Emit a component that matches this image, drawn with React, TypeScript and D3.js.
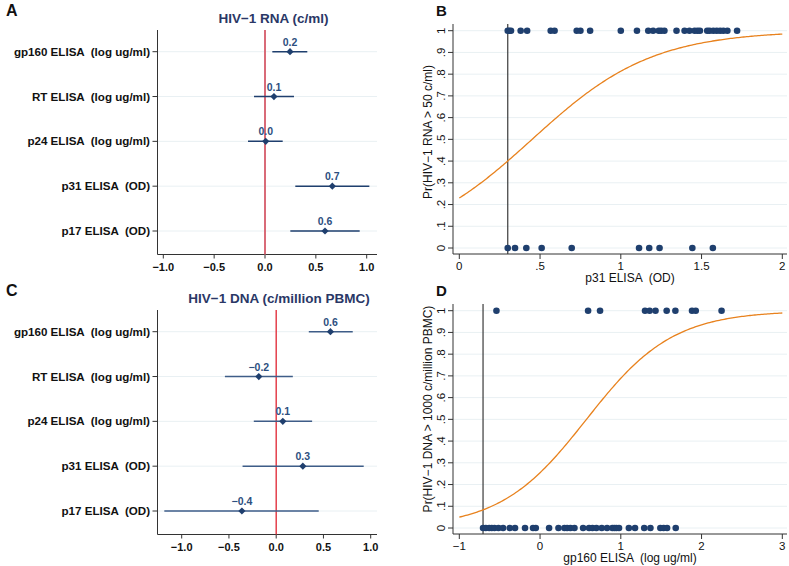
import React from "react";
import * as d3 from "d3";

// ---------- Data ----------
const forestCats = [
  "gp160 ELISA  (log ug/ml)",
  "RT ELISA  (log ug/ml)",
  "p24 ELISA  (log ug/ml)",
  "p31 ELISA  (OD)",
  "p17 ELISA  (OD)",
];
const rnaEst = [0.246, 0.088, 0.007, 0.662, 0.59];
const rnaLo = [0.072, -0.108, -0.167, 0.298, 0.249];
const rnaHi = [0.416, 0.285, 0.174, 1.026, 0.931];
const rnaLabels = ["0.2", "0.1", "0.0", "0.7", "0.6"];

const dnaEst = [0.574, -0.184, 0.07, 0.282, -0.363];
const dnaLo = [0.345, -0.543, -0.237, -0.356, -1.184];
const dnaHi = [0.81, 0.176, 0.38, 0.926, 0.45];
const dnaLabels = ["0.6", "\u22120.2", "0.1", "0.3", "\u22120.4"];

const forestTicks = [-1, -0.5, 0, 0.5, 1];
const forestTickLabels = ["\u22121.0", "\u22120.5", "0.0", "0.5", "1.0"];

// Panel B: p31 ELISA (OD) vs Pr(HIV-1 RNA > 50 c/ml)
const bOnes = [0.3, 0.31, 0.32, 0.38, 0.42, 0.566, 0.59, 0.727, 0.75, 0.81, 1.0, 1.1, 1.17, 1.2, 1.235, 1.25, 1.27, 1.345, 1.395, 1.425, 1.457, 1.475, 1.49, 1.535, 1.55, 1.573, 1.594, 1.615, 1.635, 1.66, 1.72];
const bZeros = [0.3, 0.345, 0.415, 0.51, 0.696, 1.113, 1.176, 1.24, 1.443, 1.57];
const bCutoff = 0.3;
const bIntercept = -1.208;
const bSlope = 2.68;
const bXTicks = [0, 0.5, 1, 1.5, 2];
const bXTickLabels = ["0", ".5", "1", "1.5", "2"];

// Panel D: gp160 ELISA (log ug/ml) vs Pr(HIV-1 DNA > 1000 c/million PBMC)
const dOnes = [-0.54, 0.595, 0.743, 1.3, 1.357, 1.43, 1.568, 1.676, 1.882, 1.928, 2.248];
const dZeros = [-0.706, -0.672, -0.63, -0.598, -0.565, -0.515, -0.458, -0.375, -0.31, -0.186, -0.087, -0.053, 0.112, 0.228, 0.302, 0.335, 0.376, 0.426, 0.533, 0.607, 0.649, 0.698, 0.764, 0.83, 0.896, 0.921, 0.946, 0.978, 1.1, 1.176, 1.29, 1.367, 1.49, 1.53, 1.573, 1.68];
const dCutoff = -0.706;
const dIntercept = -1.075;
const dSlope = 1.87;
const dXTicks = [-1, 0, 1, 2, 3];
const dXTickLabels = ["\u22121", "0", "1", "2", "3"];

const probTicks = [0, 0.1, 0.2, 0.3, 0.4, 0.5, 0.6, 0.7, 0.8, 0.9, 1];
const probTickLabels = ["0", ".1", ".2", ".3", ".4", ".5", ".6", ".7", ".8", ".9", "1"];

// ---------- Styles ----------
const FONT = "'Liberation Sans', Arial, Helvetica, sans-serif";
const NAVY = "#1f3f6e";
const GRID = "#e9f0f3";
const PRE = { whiteSpace: "pre" as const };

type ForestProps = {
  title: string;
  est: number[];
  lo: number[];
  hi: number[];
  labels: string[];
  top: number;
  x0: number;
  x1: number;
  titleX: number;
  letter: string;
  refColor: string;
  refWidth: number;
  lineColor: string;
};

function Forest(p: ForestProps) {
  const x = d3.scaleLinear().domain([-1, 1]).range([p.x0, p.x1]);
  const y = d3.scalePoint<string>().domain(forestCats).range([p.top + 51.7, p.top + 231]);
  const axisX = 157.5;
  const plotTop = p.top + 30;
  const axisY = p.top + 254.5;
  const right = 377;
  return (
    <g fontFamily={FONT}>
      <text x={6} y={p.top + 15.5} fontSize={16} fontWeight="bold" fill="#111">{p.letter}</text>
      <text x={p.titleX} y={p.top + 23} fontSize={13.5} fontWeight="bold" fill="#2a3766" textAnchor="middle">{p.title}</text>
      {forestCats.map((c) => (
        <line key={"g" + c} x1={axisX} x2={right} y1={y(c)} y2={y(c)} stroke={GRID} strokeWidth={1} />
      ))}
      <line x1={axisX} x2={axisX} y1={plotTop} y2={axisY} stroke="#333" strokeWidth={1} />
      <line x1={axisX} x2={right} y1={axisY} y2={axisY} stroke="#333" strokeWidth={1} />
      {forestCats.map((c) => (
        <g key={"l" + c}>
          <line x1={axisX - 5} x2={axisX} y1={y(c)} y2={y(c)} stroke="#333" strokeWidth={1} />
          <text x={150} y={(y(c) as number) + 4} fontSize={11.6} fontWeight="bold" fill="#111" textAnchor="end" style={PRE}>{c}</text>
        </g>
      ))}
      {forestTicks.map((t, i) => (
        <g key={"t" + t}>
          <line x1={x(t)} x2={x(t)} y1={axisY} y2={axisY + 4} stroke="#333" strokeWidth={1} />
          <text x={x(t)} y={axisY + 16.5} fontSize={11} fontWeight="bold" fill="#111" textAnchor="middle">{forestTickLabels[i]}</text>
        </g>
      ))}
      <line x1={x(0)} x2={x(0)} y1={plotTop} y2={axisY} stroke={p.refColor} strokeWidth={p.refWidth} />
      {forestCats.map((c, i) => {
        const yy = y(c) as number;
        const cx = x(p.est[i]);
        const s = 3.6;
        return (
          <g key={"m" + c}>
            <line x1={x(p.lo[i])} x2={x(p.hi[i])} y1={yy} y2={yy} stroke={p.lineColor} strokeWidth={1.5} />
            <path d={`M${cx},${yy - s} L${cx + s},${yy} L${cx},${yy + s} L${cx - s},${yy} Z`} fill={NAVY} />
            <text x={cx} y={yy - 6} fontSize={10.5} fontWeight="bold" fill="#2d4f80" textAnchor="middle">{p.labels[i]}</text>
          </g>
        );
      })}
    </g>
  );
}

type LogitProps = {
  top: number;
  domain: [number, number];
  ones: number[];
  zeros: number[];
  cutoff: number;
  intercept: number;
  slope: number;
  xTicks: number[];
  xTickLabels: string[];
  xTitle: string;
  yTitle: string;
  yTitleCenter: number;
  letter: string;
};

function Logit(p: LogitProps) {
  const x = d3.scaleLinear().domain(p.domain).range([459.3, 782.3]);
  const y = d3.scaleLinear().domain([0, 1]).range([p.top + 248, p.top + 30.7]);
  const axisX = 453;
  const axisTop = p.top + 24;
  const axisY = p.top + 254;
  const right = 787;
  const xs = d3.range(0, 201).map((i) => p.domain[0] + ((p.domain[1] - p.domain[0]) * i) / 200);
  const curve = d3
    .line<number>()
    .x((v) => x(v))
    .y((v) => y(1 / (1 + Math.exp(-(p.intercept + p.slope * v)))))(xs);
  return (
    <g fontFamily={FONT}>
      <text x={436} y={p.top + 15.5} fontSize={15} fontWeight="bold" fill="#111">{p.letter}</text>
      {probTicks.map((t) => (
        <line key={"g" + t} x1={axisX} x2={right} y1={y(t)} y2={y(t)} stroke={GRID} strokeWidth={1} />
      ))}
      <line x1={axisX} x2={axisX} y1={axisTop} y2={axisY} stroke="#333" strokeWidth={1} />
      <line x1={axisX} x2={right} y1={axisY} y2={axisY} stroke="#333" strokeWidth={1} />
      {probTicks.map((t, i) => (
        <g key={"yt" + t}>
          <line x1={axisX - 5} x2={axisX} y1={y(t)} y2={y(t)} stroke="#333" strokeWidth={1} />
          <text transform={`translate(${axisX - 8},${y(t)}) rotate(-90)`} fontSize={11.5} fill="#111" textAnchor="middle">{probTickLabels[i]}</text>
        </g>
      ))}
      {p.xTicks.map((t, i) => (
        <g key={"xt" + t}>
          <line x1={x(t)} x2={x(t)} y1={axisY} y2={axisY + 5} stroke="#333" strokeWidth={1} />
          <text x={x(t)} y={axisY + 16} fontSize={11.5} fill="#111" textAnchor="middle">{p.xTickLabels[i]}</text>
        </g>
      ))}
      <text x={630} y={axisY + 28} fontSize={12} fill="#111" textAnchor="middle" style={PRE}>{p.xTitle}</text>
      <text transform={`translate(${432},${p.yTitleCenter}) rotate(-90)`} fontSize={12} fill="#111" textAnchor="middle">{p.yTitle}</text>
      <line x1={x(p.cutoff)} x2={x(p.cutoff)} y1={axisTop} y2={axisY} stroke="#3a3a3a" strokeWidth={1.2} />
      <path d={curve || ""} fill="none" stroke="#e8821e" strokeWidth={1.3} />
      {p.ones.map((v, i) => (
        <circle key={"o" + i} cx={x(v)} cy={y(1)} r={3.3} fill={NAVY} />
      ))}
      {p.zeros.map((v, i) => (
        <circle key={"z" + i} cx={x(v)} cy={y(0)} r={3.3} fill={NAVY} />
      ))}
    </g>
  );
}

export default function App() {
  return (
    <svg
      width={789}
      height={566}
      viewBox="0 0 789 566"
      style={{ position: "absolute", left: 0, top: 0, background: "#fff" }}
    >
      <rect width={789} height={566} fill="#fff" />
      <Forest
        title={"HIV\u22121 RNA (c/ml)"}
        est={rnaEst}
        lo={rnaLo}
        hi={rnaHi}
        labels={rnaLabels}
        top={0}
        x0={163.3}
        x1={366.7}
        titleX={273.5}
        letter="A"
        refColor="#d96b78"
        refWidth={2}
        lineColor={NAVY}
      />
      <Forest
        title={"HIV\u22121 DNA (c/million PBMC)"}
        est={dnaEst}
        lo={dnaLo}
        hi={dnaHi}
        labels={dnaLabels}
        top={280}
        x0={181.7}
        x1={370.7}
        titleX={279}
        letter="C"
        refColor="#e2333f"
        refWidth={1.4}
        lineColor="#3e5d88"
      />
      <Logit
        top={0}
        domain={[0, 2]}
        ones={bOnes}
        zeros={bZeros}
        cutoff={bCutoff}
        intercept={bIntercept}
        slope={bSlope}
        xTicks={bXTicks}
        xTickLabels={bXTickLabels}
        xTitle="p31 ELISA  (OD)"
        yTitle={"Pr(HIV\u22121 RNA > 50 c/ml)"}
        yTitleCenter={132}
        letter="B"
      />
      <Logit
        top={280}
        domain={[-1, 3]}
        ones={dOnes}
        zeros={dZeros}
        cutoff={dCutoff}
        intercept={dIntercept}
        slope={dSlope}
        xTicks={dXTicks}
        xTickLabels={dXTickLabels}
        xTitle="gp160 ELISA  (log ug/ml)"
        yTitle={"Pr(HIV\u22121 DNA > 1000 c/million PBMC)"}
        yTitleCenter={409}
        letter="D"
      />
    </svg>
  );
}
